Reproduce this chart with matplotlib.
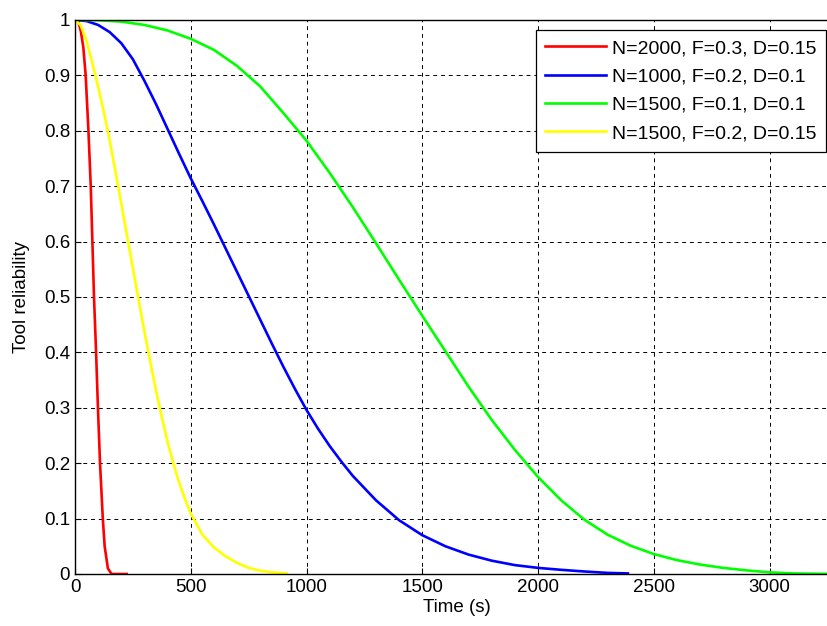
import matplotlib
matplotlib.use('Agg')
import matplotlib.pyplot as plt
from matplotlib.ticker import FormatStrFormatter

plt.rcParams['font.family'] = ['Liberation Sans', 'DejaVu Sans']

# Data
t_red = [0, 15, 25, 36, 46, 58, 68, 75, 82, 91, 99, 108, 120, 128, 142, 158, 223]
r_red = [1, 0.995, 0.98, 0.95, 0.9, 0.8, 0.7, 0.6, 0.5, 0.4, 0.3, 0.2, 0.1, 0.05, 0.01, 0, 0]

t_blue = [0, 50, 100, 150, 200, 250, 300, 350, 400, 450, 500, 550, 600, 650, 700, 750, 800,
          850, 900, 950, 1000, 1050, 1100, 1150, 1200, 1300, 1400, 1500, 1600, 1700, 1800,
          1900, 2000, 2100, 2200, 2300, 2388]
r_blue = [1, 0.998, 0.991, 0.978, 0.958, 0.929, 0.89, 0.848, 0.803, 0.758, 0.714, 0.673,
          0.631, 0.588, 0.545, 0.502, 0.459, 0.416, 0.374, 0.334, 0.296, 0.262, 0.231, 0.203,
          0.177, 0.133, 0.097, 0.07, 0.05, 0.035, 0.024, 0.016, 0.011, 0.0075, 0.0045, 0.002,
          0.001]

t_green = [0, 100, 200, 300, 400, 500, 600, 700, 800, 900, 1000, 1100, 1200, 1300, 1400,
           1500, 1600, 1700, 1800, 1900, 2000, 2100, 2200, 2300, 2400, 2500, 2600, 2700,
           2800, 2900, 3000, 3100, 3300]
r_green = [1, 0.9995, 0.997, 0.991, 0.981, 0.966, 0.946, 0.917, 0.88, 0.832, 0.782, 0.724,
           0.662, 0.597, 0.531, 0.466, 0.402, 0.338, 0.278, 0.224, 0.175, 0.133, 0.098, 0.071,
           0.051, 0.036, 0.025, 0.017, 0.011, 0.0065, 0.003, 0.001, 0.0]

t_yellow = [0, 25, 50, 75, 100, 125, 150, 175, 200, 225, 250, 275, 300, 325, 350, 375, 400,
            425, 450, 475, 500, 550, 600, 650, 700, 750, 800, 850, 914]
r_yellow = [1, 0.99, 0.962, 0.922, 0.879, 0.833, 0.782, 0.726, 0.668, 0.61, 0.552, 0.494,
            0.437, 0.383, 0.331, 0.283, 0.238, 0.199, 0.165, 0.135, 0.109, 0.071, 0.048,
            0.032, 0.02, 0.011, 0.006, 0.003, 0.001]

labels = ['N=2000, F=0.3, D=0.15', 'N=1000, F=0.2, D=0.1',
          'N=1500, F=0.1, D=0.1', 'N=1500, F=0.2, D=0.15']

fig = plt.figure(figsize=(8.28, 6.26), dpi=100)
ax = fig.add_axes([0.0906, 0.0831, 0.9227, 0.885])

ax.plot(t_red, r_red, color='#ff0000', lw=1.9, label=labels[0])
ax.plot(t_blue, r_blue, color='#0000ff', lw=1.9, label=labels[1])
ax.plot(t_green, r_green, color='#00ff00', lw=1.9, label=labels[2])
ax.plot(t_yellow, r_yellow, color='#ffff00', lw=1.9, label=labels[3])

ax.set_xlim(0, 3300)
ax.set_ylim(0, 1)
ax.set_xticks(range(0, 3001, 500))
ax.set_yticks([i / 10 for i in range(11)])
ax.yaxis.set_major_formatter(FormatStrFormatter('%g'))
ax.tick_params(direction='in', labelsize=13.5, length=4, width=0.8)
ax.grid(True, color='black', linestyle=(0, (4, 4)), linewidth=0.7)
for s in ax.spines.values():
    s.set_linewidth(1.0)
    s.set_color('black')

ax.set_xlabel('Time (s)', fontsize=13.5, labelpad=2)
ax.set_ylabel('Tool reliability', fontsize=13.5, labelpad=10)

leg = ax.legend(loc='upper left', bbox_to_anchor=(0.603, 0.982), fontsize=14,
                fancybox=False, framealpha=1, edgecolor='black', handlelength=3.1,
                labelspacing=0.55, borderpad=0.5, handletextpad=0.3, borderaxespad=0)
leg.get_frame().set_linewidth(0.9)

plt.savefig('out.png', dpi=100)
